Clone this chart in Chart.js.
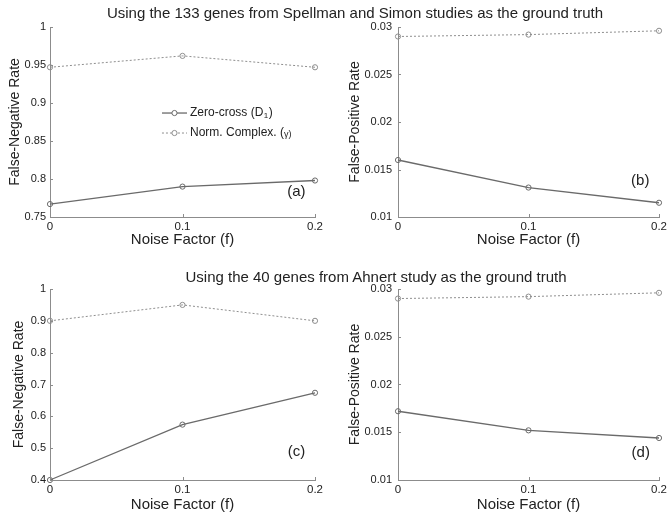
<!DOCTYPE html>
<html>
<head>
<meta charset="utf-8">
<script src="https://cdn.jsdelivr.net/npm/chart.js@4"></script>
<style>
  body { margin: 0; background: #fff; width: 670px; height: 517px; position: relative; overflow: hidden;
         font-family: "Liberation Sans", Arial, sans-serif; color: #222; }
  canvas { position: absolute; }
  .ttl { position: absolute; font-size: 15px; line-height: 18px; white-space: nowrap;
         transform: translateX(-50%); color: #222; z-index: 2; }
</style>
</head>
<body>
<canvas id="pa" width="335" height="260" style="left:0;top:0"></canvas>
<canvas id="pb" width="335" height="260" style="left:335px;top:0"></canvas>
<canvas id="pc" width="335" height="257" style="left:0;top:260px"></canvas>
<canvas id="pd" width="335" height="257" style="left:335px;top:260px"></canvas>
<div class="ttl" style="left:355px;top:4px">Using the 133 genes from Spellman and Simon studies as the ground truth</div>
<div class="ttl" style="left:376px;top:268px">Using the 40 genes from Ahnert study as the ground truth</div>
<script>
// noise factor f on the x axis
const noise = [0, 0.1, 0.2];
const xTicks = [0, 0.1, 0.2];

// panel (a) / (c): false-negative rate, (b) / (d): false-positive rate
const fnZero133 = [0.767, 0.790, 0.798];
const fnNorm133 = [0.947, 0.962, 0.947];
const fpZero133 = [0.0160, 0.0131, 0.0115];
const fpNorm133 = [0.0290, 0.0292, 0.0296];
const fnZero40 = [0.400, 0.574, 0.674];
const fnNorm40 = [0.900, 0.950, 0.900];
const fpZero40 = [0.0172, 0.0152, 0.0144];
const fpNorm40 = [0.0290, 0.0292, 0.0296];

const fnTicks133 = [0.75, 0.8, 0.85, 0.9, 0.95, 1];
const fnTicks40 = [0.4, 0.5, 0.6, 0.7, 0.8, 0.9, 1];
const fpTicks = [0.01, 0.015, 0.02, 0.025, 0.03];

const seriesNames = ["Zero-cross (D", "Norm. Complex. ("];

const FONT = '"Liberation Sans", Arial, sans-serif';
const TEXT = "#222";
const AXIS = "#8c8c8c";
const fmt = v => String(+(+v).toFixed(4));

const decor = {
  id: "decor",
  afterDatasetsDraw(chart, args, opts) {
    const { ctx, chartArea: ca } = chart;
    const x = chart.scales.x, y = chart.scales.y;
    ctx.save();
    // small inward ticks, matlab style
    ctx.strokeStyle = AXIS;
    ctx.lineWidth = 1;
    ctx.beginPath();
    y.ticks.forEach(t => {
      const py = Math.round(y.getPixelForValue(t.value)) + 0.5;
      ctx.moveTo(ca.left, py); ctx.lineTo(ca.left + 3, py);
    });
    x.ticks.forEach(t => {
      const px = Math.round(x.getPixelForValue(t.value)) + 0.5;
      ctx.moveTo(px, ca.bottom); ctx.lineTo(px, ca.bottom - 3);
    });
    ctx.stroke();

    ctx.fillStyle = TEXT;
    ctx.font = "15px " + FONT;
    ctx.textAlign = "center";
    ctx.textBaseline = "middle";
    ctx.fillText(opts.tag, x.getPixelForValue(opts.tagAt[0]), y.getPixelForValue(opts.tagAt[1]));

    if (opts.legend) {
      const L = opts.legend;
      chart.data.datasets.forEach((ds, i) => {
        const py = y.getPixelForValue(L.rows[i]);
        const x0 = x.getPixelForValue(L.x0), x1 = x.getPixelForValue(L.x1);
        ctx.strokeStyle = ds.borderColor;
        ctx.lineWidth = ds.borderWidth;
        ctx.setLineDash(ds.borderDash || []);
        ctx.beginPath(); ctx.moveTo(x0, py); ctx.lineTo(x1, py); ctx.stroke();
        ctx.setLineDash([]);
        ctx.lineWidth = 1;
        ctx.fillStyle = "#fff";
        ctx.beginPath(); ctx.arc((x0 + x1) / 2, py, ds.pointRadius, 0, Math.PI * 2); ctx.fill(); ctx.stroke();

        let tx = x1 + 3;
        ctx.fillStyle = TEXT;
        ctx.textAlign = "left";
        ctx.font = "12px " + FONT;
        ctx.fillText(seriesNames[i], tx, py);
        tx += ctx.measureText(seriesNames[i]).width;
        if (i === 0) {
          ctx.font = "8px " + FONT;
          ctx.fillText("1", tx + 0.5, py + 3);
          tx += ctx.measureText("1").width + 1;
          ctx.font = "12px " + FONT;
          ctx.fillText(")", tx, py);
        } else {
          ctx.font = "9px " + FONT;
          ctx.fillText("γ)", tx, py + 1);
        }
      });
    }
    ctx.restore();
  }
};

function makePanel(id, p) {
  const dsBase = { pointRadius: 2.6, pointBorderWidth: 1, pointBackgroundColor: "rgba(255,255,255,0)",
                   tension: 0, clip: false };
  new Chart(document.getElementById(id), {
    type: "line",
    data: {
      datasets: [
        Object.assign({ label: "Zero-cross", data: noise.map((v, i) => ({ x: v, y: p.zero[i] })),
          borderColor: "#6a6a6a", pointBorderColor: "#6a6a6a", borderWidth: 1.3 }, dsBase),
        Object.assign({ label: "Norm. Complex.", data: noise.map((v, i) => ({ x: v, y: p.norm[i] })),
          borderColor: "#8e8e8e", pointBorderColor: "#8e8e8e", borderWidth: 1, borderDash: [2, 2] }, dsBase)
      ]
    },
    plugins: [decor],
    options: {
      responsive: false,
      animation: false,
      events: [],
      layout: { padding: { top: p.top, right: p.right, left: 0, bottom: 0 } },
      plugins: {
        legend: { display: false },
        tooltip: { enabled: false },
        decor: { tag: p.tag, tagAt: p.tagAt, legend: p.legend }
      },
      scales: {
        x: {
          type: "linear", min: 0, max: 0.2,
          afterBuildTicks: s => { s.ticks = xTicks.map(v => ({ value: v })); },
          afterFit: s => { s.height = p.xh; },
          grid: { display: false, drawTicks: false },
          border: { display: true, color: AXIS, width: 1 },
          ticks: { color: TEXT, font: { family: FONT, size: 11.5 }, padding: 3, maxRotation: 0,
                   autoSkip: false, callback: fmt },
          title: { display: true, text: "Noise Factor (f)", color: TEXT,
                   font: { family: FONT, size: 15 }, padding: { top: 0, bottom: p.xTitlePad } }
        },
        y: {
          type: "linear", min: p.ticks[0], max: p.ticks[p.ticks.length - 1],
          afterBuildTicks: s => { s.ticks = p.ticks.map(v => ({ value: v })); },
          afterFit: s => { s.width = p.yw; },
          grid: { display: false, drawTicks: false },
          border: { display: true, color: AXIS, width: 1 },
          ticks: { color: TEXT, font: { family: FONT, size: 11 }, padding: p.yPad, autoSkip: false, callback: fmt },
          title: { display: true, text: p.yTitle, color: TEXT,
                   font: { family: FONT, size: 14 }, padding: { top: p.yTitlePad, bottom: 0 } }
        }
      }
    }
  });
}

makePanel("pa", { zero: fnZero133, norm: fnNorm133, ticks: fnTicks133, yTitle: "False-Negative Rate",
  tag: "(a)", tagAt: [0.186, 0.7825], top: 27, right: 20, yw: 50, xh: 43, yTitlePad: 7, yPad: 4, xTitlePad: 11,
  legend: { x0: 0.0845, x1: 0.1034, rows: [0.8868, 0.8605] } });
makePanel("pb", { zero: fpZero133, norm: fpNorm133, ticks: fpTicks, yTitle: "False-Positive Rate",
  tag: "(b)", tagAt: [0.1856, 0.0138], top: 27, right: 8, yw: 63, xh: 43, yTitlePad: 11.6, yPad: 6, xTitlePad: 11 });
makePanel("pc", { zero: fnZero40, norm: fnNorm40, ticks: fnTicks40, yTitle: "False-Negative Rate",
  tag: "(c)", tagAt: [0.186, 0.488], top: 29, right: 20, yw: 50, xh: 37, yTitlePad: 11, yPad: 4, xTitlePad: 3 });
makePanel("pd", { zero: fpZero40, norm: fpNorm40, ticks: fpTicks, yTitle: "False-Positive Rate",
  tag: "(d)", tagAt: [0.186, 0.0128], top: 29, right: 8, yw: 63, xh: 37, yTitlePad: 11.6, yPad: 6, xTitlePad: 3 });
</script>
</body>
</html>
